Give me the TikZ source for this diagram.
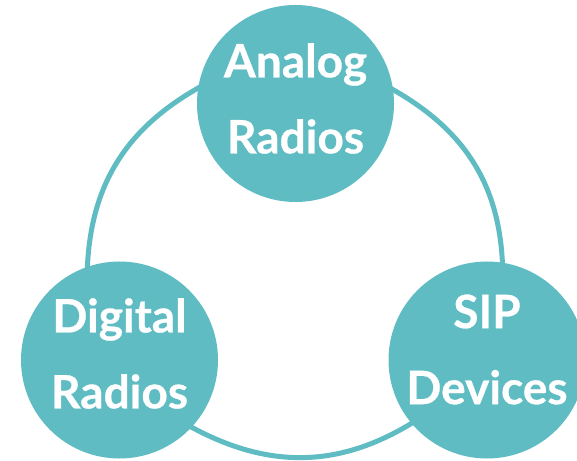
\documentclass[tikz,border=0pt]{standalone}
\usepackage{fontspec}
\setmainfont{Lato}
\newfontface\cycleface{Lato Bold}[FakeBold=0.6]
\usetikzlibrary{positioning,backgrounds}
\definecolor{lagoon}{HTML}{5EBCC2}
\newcommand{\biglabel}{\cycleface\fontsize{46}{76}\selectfont}

\begin{document}
\begin{tikzpicture}[x=1pt,y=1pt,
    cyclenode/.style={circle,fill=lagoon,minimum size=197pt,inner sep=0pt},
    cyclelabel/.style={align=center,text=white,font=\biglabel,inner sep=0pt},
    ring/.style={draw=lagoon,line width=5pt,shorten <=-4pt,shorten >=-4pt}]
  \useasboundingbox (0,0) rectangle (577,460);
  \foreach \name/\px/\py/\dy/\txt in {
    analog/295.5/356.5/5/{Analog\\Radios},
    digital/119.5/100/6.5/{Digital\\Radios},
    sip/487/100/10.5/{SIP\\Devices}}
  {
    \node[cyclenode] (\name) at (\px,\py) {};
    \node[cyclelabel] (\name-txt) at ([yshift=\dy pt]\name) {\txt};
  }
  \begin{scope}[on background layer]
    \draw[ring] (analog.171) to[out=209,in=88] (digital.109);
    \draw[ring] (analog.8) to[out=-29,in=92] (sip.81);
    \draw[ring] (digital.-43) to[out=-29,in=212] (sip.220);
  \end{scope}
\end{tikzpicture}
\end{document}
